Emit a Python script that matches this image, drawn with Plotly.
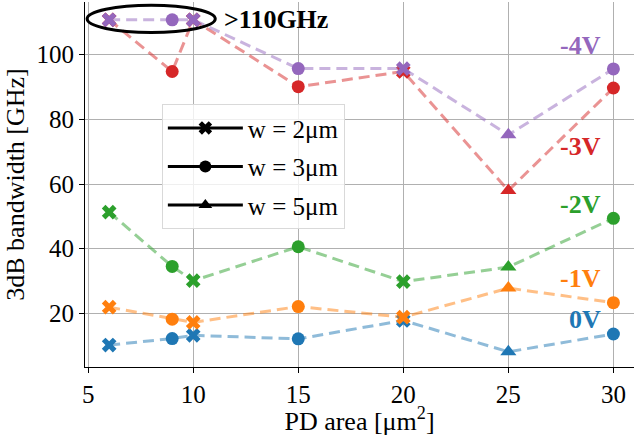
import plotly.graph_objects as go

areas = [6, 9, 10, 15, 20, 25, 30]
widths = ["2", "3", "2", "3", "2", "5", "3"]  # w in um per point
bw_0V = [10.2, 12.2, 13.2, 12.1, 17.8, 8.1, 13.6]
bw_1V = [21.9, 18.2, 17.2, 22.1, 18.8, 27.8, 23.3]
bw_2V = [51.3, 34.5, 30.1, 40.6, 29.8, 34.3, 49.4]
bw_3V = [110.8, 94.8, 110.8, 90.1, 94.8, 58.0, 89.7]
bw_4V = [110.8, 110.8, 110.8, 95.7, 95.7, 75.2, 95.6]

series = [
    ("0V", bw_0V, "#1f77b4"),
    ("-1V", bw_1V, "#ff7f0e"),
    ("-2V", bw_2V, "#2ca02c"),
    ("-3V", bw_3V, "#d62728"),
    ("-4V", bw_4V, "#9467bd"),
]
label_y = {"0V": 18.0, "-1V": 30.9, "-2V": 53.6, "-3V": 71.6, "-4V": 103}
symbol_map = {"2": "x", "3": "circle", "5": "triangle-up"}
legend_labels = ["w = 2μm", "w = 3μm", "w = 5μm"]

FONT = "Liberation Serif"
fig = go.Figure()

def hex_rgba(h, a):
    h = h.lstrip("#")
    return f"rgba({int(h[0:2],16)},{int(h[2:4],16)},{int(h[4:6],16)},{a})"

for name, vals, col in series:
    fig.add_trace(go.Scatter(x=areas, y=vals, mode="lines",
                             line=dict(color=hex_rgba(col, 0.5), width=3, dash="11px,6px"),
                             showlegend=False, hoverinfo="skip"))
    fig.add_trace(go.Scatter(x=areas, y=vals, mode="markers",
                             marker=dict(color=col, size=[13 if w != "5" else 14 for w in widths],
                                         symbol=[symbol_map[w] for w in widths],
                                         opacity=1, line=dict(width=0)),
                             showlegend=False, name=name))
    fig.add_annotation(x=29.52, y=label_y[name], text=f"<b>{name}</b>", showarrow=False,
                       xanchor="right", yanchor="middle",
                       font=dict(family=FONT, size=26, color=col))

for i, (lab, w) in enumerate(zip(legend_labels, ["2", "3", "5"])):
    fig.add_trace(go.Scatter(x=[None], y=[None], mode="lines+markers", name=lab,
                             legendgroup=f"g{i}",
                             line=dict(color="black", width=3),
                             marker=dict(color="black", size=12, symbol=symbol_map[w])))

fig.add_shape(type="circle", xref="x", yref="y", x0=4.95, x1=11.05, y0=106.9, y1=115.3,
              line=dict(color="black", width=3))
fig.add_annotation(x=11.35, y=111, text="<b>>110GHz</b>", showarrow=False,
                   xanchor="left", yanchor="middle",
                   font=dict(family=FONT, size=26, color="black"))

fig.update_layout(
    width=634, height=436,
    margin=dict(l=85, r=0, t=2, b=69),
    plot_bgcolor="white", paper_bgcolor="white",
    font=dict(family=FONT, size=25, color="black"),
    legend=dict(x=0.14, y=0.72, xanchor="left", yanchor="top",
                bgcolor="rgba(255,255,255,0.8)", bordercolor="#d9d9d9", borderwidth=1,
                font=dict(family=FONT, size=25), itemwidth=75, tracegroupgap=3),
    xaxis=dict(range=[4.85, 30.98], tickvals=[5, 10, 15, 20, 25, 30],
               showgrid=True, gridcolor="#b0b0b0", gridwidth=1,
               showline=True, linecolor="black", linewidth=1.2,
               ticks="outside", ticklen=5, tickcolor="black",
               title=dict(text="PD area [μm<sup>2</sup>]", standoff=4,
                          font=dict(family=FONT, size=26)),
               zeroline=False),
    yaxis=dict(range=[3.4, 116.3], tickvals=[20, 40, 60, 80, 100],
               showgrid=True, gridcolor="#b0b0b0", gridwidth=1,
               showline=True, linecolor="black", linewidth=1.2,
               ticks="outside", ticklen=5, tickcolor="black",
               title=dict(text="3dB bandwidth [GHz]", standoff=4,
                          font=dict(family=FONT, size=26)),
               zeroline=False),
)

fig.write_html("out.html")
